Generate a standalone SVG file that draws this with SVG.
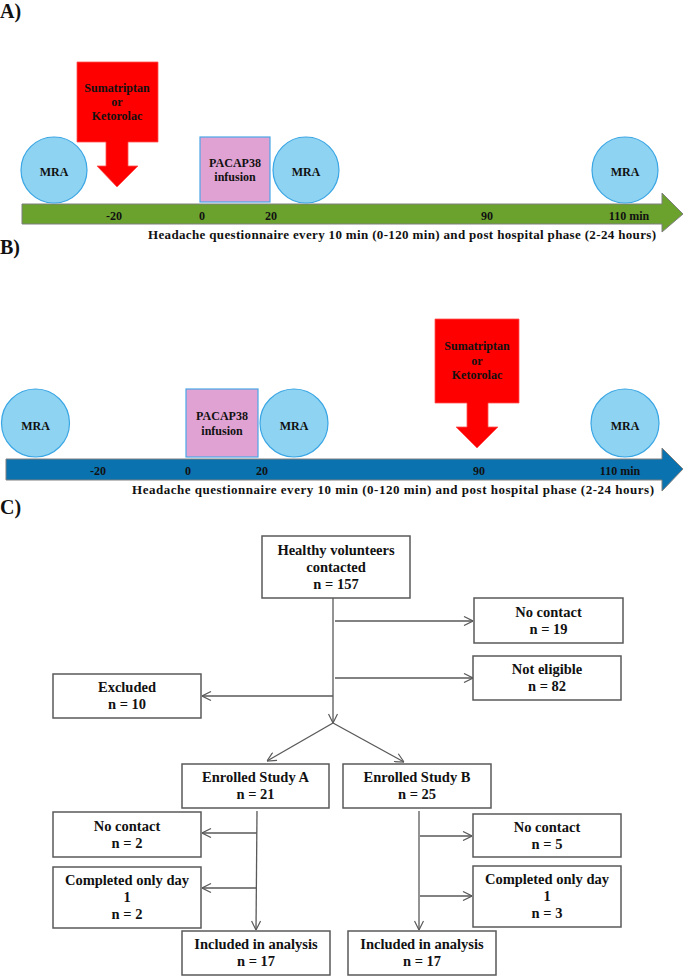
<svg xmlns="http://www.w3.org/2000/svg" width="685" height="977" viewBox="0 0 685 977">
<defs>
<style>
text{font-family:"Liberation Serif","Times New Roman",serif;font-weight:bold;fill:#111;text-anchor:middle}
.lbl{font-size:20px;text-anchor:start}
.t12{font-size:12px}
.hq{font-size:13px;text-anchor:start}
.fc{font-size:14.5px}
.mra{fill:#8fd3f2;stroke:#3aa6e4;stroke-width:1.2}
.pac{fill:#e0a2d3;stroke:#4aa6e6;stroke-width:1.2}
.red{fill:#ff0000;stroke:#ff5050;stroke-width:0.8}
.box{fill:#fff;stroke:#595959;stroke-width:1.5}
.con{fill:none;stroke:#595959;stroke-width:1.3}
</style>
<marker id="arr" viewBox="0 0 10 10" refX="10" refY="5" markerWidth="10" markerHeight="10" markerUnits="userSpaceOnUse" orient="auto">
<path d="M1,0.5 L10,5 L1,9.5" fill="none" stroke="#595959" stroke-width="1.2"/>
</marker>
</defs>

<!-- Panel A -->
<g id="panelA">
<text class="lbl" x="0" y="18">A)</text>
<g id="A-bar"><path d="M22,204 H662 V193 L683,214 L662,232 V224 H22 Z" fill="#6ba22e" stroke="#7f7f7f" stroke-width="1"/></g>
<g id="A-red">
<path class="red" d="M77,62 H158 V142 H128 V166 H138 L117,187 L97,166 H106 V142 H77 Z"/>
<text class="t12" x="117" y="92">Sumatriptan</text>
<text class="t12" x="117" y="106">or</text>
<text class="t12" x="117" y="120">Ketorolac</text>
</g>
<g id="A-mra1"><circle class="mra" cx="54" cy="170" r="33"/><text class="t12" x="54" y="176">MRA</text></g>
<g id="A-pacap"><rect class="pac" x="200" y="137" width="70" height="65"/><text class="t12" x="235" y="167">PACAP38</text><text class="t12" x="235" y="181">infusion</text></g>
<g id="A-mra2"><circle class="mra" cx="306" cy="170" r="33"/><text class="t12" x="306" y="176">MRA</text></g>
<g id="A-mra3"><circle class="mra" cx="625" cy="170" r="33"/><text class="t12" x="625" y="176">MRA</text></g>
<g id="A-ticks">
<text class="t12" x="114" y="220">-20</text>
<text class="t12" x="202" y="220">0</text>
<text class="t12" x="271" y="220">20</text>
<text class="t12" x="487" y="220">90</text>
<text class="t12" x="629" y="220">110 min</text>
</g>
<text class="hq" x="148" y="239" textLength="508" lengthAdjust="spacing">Headache questionnaire every 10 min (0-120 min) and post hospital phase (2-24 hours)</text>
</g>

<!-- Panel B -->
<g id="panelB">
<text class="lbl" x="0" y="254">B)</text>
<g id="B-bar"><path d="M6,459 H662 V448 L683,469 L662,491 V480 H6 Z" fill="#0b72b0" stroke="#7f7f7f" stroke-width="1"/></g>
<g id="B-mra1"><circle class="mra" cx="35.5" cy="423" r="34"/><text class="t12" x="35.5" y="430">MRA</text></g>
<g id="B-pacap"><rect class="pac" x="186" y="389" width="72" height="68"/><text class="t12" x="222" y="420">PACAP38</text><text class="t12" x="222" y="435">infusion</text></g>
<g id="B-mra2"><circle class="mra" cx="294" cy="423" r="34"/><text class="t12" x="294" y="430">MRA</text></g>
<g id="B-red">
<path class="red" d="M435,319 H519 V403 H488 V427 H498 L477,448 L456,427 H467 V403 H435 Z"/>
<text class="t12" x="477" y="350">Sumatriptan</text>
<text class="t12" x="477" y="364.5">or</text>
<text class="t12" x="477" y="379">Ketorolac</text>
</g>
<g id="B-mra3"><circle class="mra" cx="625" cy="423" r="34"/><text class="t12" x="625" y="430">MRA</text></g>
<g id="B-ticks">
<text class="t12" x="98" y="475">-20</text>
<text class="t12" x="188" y="475">0</text>
<text class="t12" x="262" y="475">20</text>
<text class="t12" x="479" y="475">90</text>
<text class="t12" x="620" y="475">110 min</text>
</g>
<text class="hq" x="132" y="494" textLength="522" lengthAdjust="spacing">Headache questionnaire every 10 min (0-120 min) and post hospital phase (2-24 hours)</text>
</g>

<!-- Panel C -->
<text class="lbl" x="0" y="514">C)</text>

<g id="connectors">
<path class="con" d="M333,598 V723" marker-end="url(#arr)"/>
<path class="con" d="M335,621 H473" marker-end="url(#arr)"/>
<path class="con" d="M335,678 H473" marker-end="url(#arr)"/>
<path class="con" d="M333,696 H202" marker-end="url(#arr)"/>
<path class="con" d="M333,723 L267,761" marker-end="url(#arr)"/>
<path class="con" d="M333,723 L404,762" marker-end="url(#arr)"/>
<path class="con" d="M257,811 L256,930" marker-end="url(#arr)"/>
<path class="con" d="M257,833 H202" marker-end="url(#arr)"/>
<path class="con" d="M257,888 H202" marker-end="url(#arr)"/>
<path class="con" d="M419,811 V930" marker-end="url(#arr)"/>
<path class="con" d="M420,836 H472" marker-end="url(#arr)"/>
<path class="con" d="M420,896 H472" marker-end="url(#arr)"/>
</g>

<g id="healthy"><rect class="box" x="262" y="536" width="148" height="62"/>
<text class="fc" x="336" y="555">Healthy volunteers</text><text class="fc" x="336" y="572">contacted</text><text class="fc" x="336" y="589">n = 157</text></g>
<g id="nocontact1"><rect class="box" x="474" y="598" width="149" height="45"/>
<text class="fc" x="548.5" y="617">No contact</text><text class="fc" x="548.5" y="634">n = 19</text></g>
<g id="noteligible"><rect class="box" x="473" y="656" width="148" height="44"/>
<text class="fc" x="547" y="674">Not eligible</text><text class="fc" x="547" y="691">n = 82</text></g>
<g id="excluded"><rect class="box" x="53" y="674" width="148" height="44"/>
<text class="fc" x="127" y="692">Excluded</text><text class="fc" x="127" y="709">n = 10</text></g>
<g id="enrolledA"><rect class="box" x="182" y="764" width="147" height="44"/>
<text class="fc" x="255.5" y="782">Enrolled Study A</text><text class="fc" x="255.5" y="799">n = 21</text></g>
<g id="enrolledB"><rect class="box" x="343" y="764" width="148" height="44"/>
<text class="fc" x="417" y="782">Enrolled Study B</text><text class="fc" x="417" y="799">n = 25</text></g>
<g id="nocontactA"><rect class="box" x="53" y="812" width="148" height="45"/>
<text class="fc" x="127" y="831">No contact</text><text class="fc" x="127" y="848">n = 2</text></g>
<g id="completedA"><rect class="box" x="53" y="867" width="148" height="61"/>
<text class="fc" x="127" y="885">Completed only day</text><text class="fc" x="127" y="902">1</text><text class="fc" x="127" y="919">n = 2</text></g>
<g id="includedA"><rect class="box" x="182" y="931" width="148" height="44"/>
<text class="fc" x="256" y="949">Included in analysis</text><text class="fc" x="256" y="966">n = 17</text></g>
<g id="nocontactB"><rect class="box" x="473" y="814" width="148" height="43"/>
<text class="fc" x="547" y="832">No contact</text><text class="fc" x="547" y="849">n = 5</text></g>
<g id="completedB"><rect class="box" x="473" y="866" width="148" height="61"/>
<text class="fc" x="547" y="884">Completed only day</text><text class="fc" x="547" y="901">1</text><text class="fc" x="547" y="918">n = 3</text></g>
<g id="includedB"><rect class="box" x="348" y="931" width="148" height="44"/>
<text class="fc" x="422" y="949">Included in analysis</text><text class="fc" x="422" y="966">n = 17</text></g>
</svg>
